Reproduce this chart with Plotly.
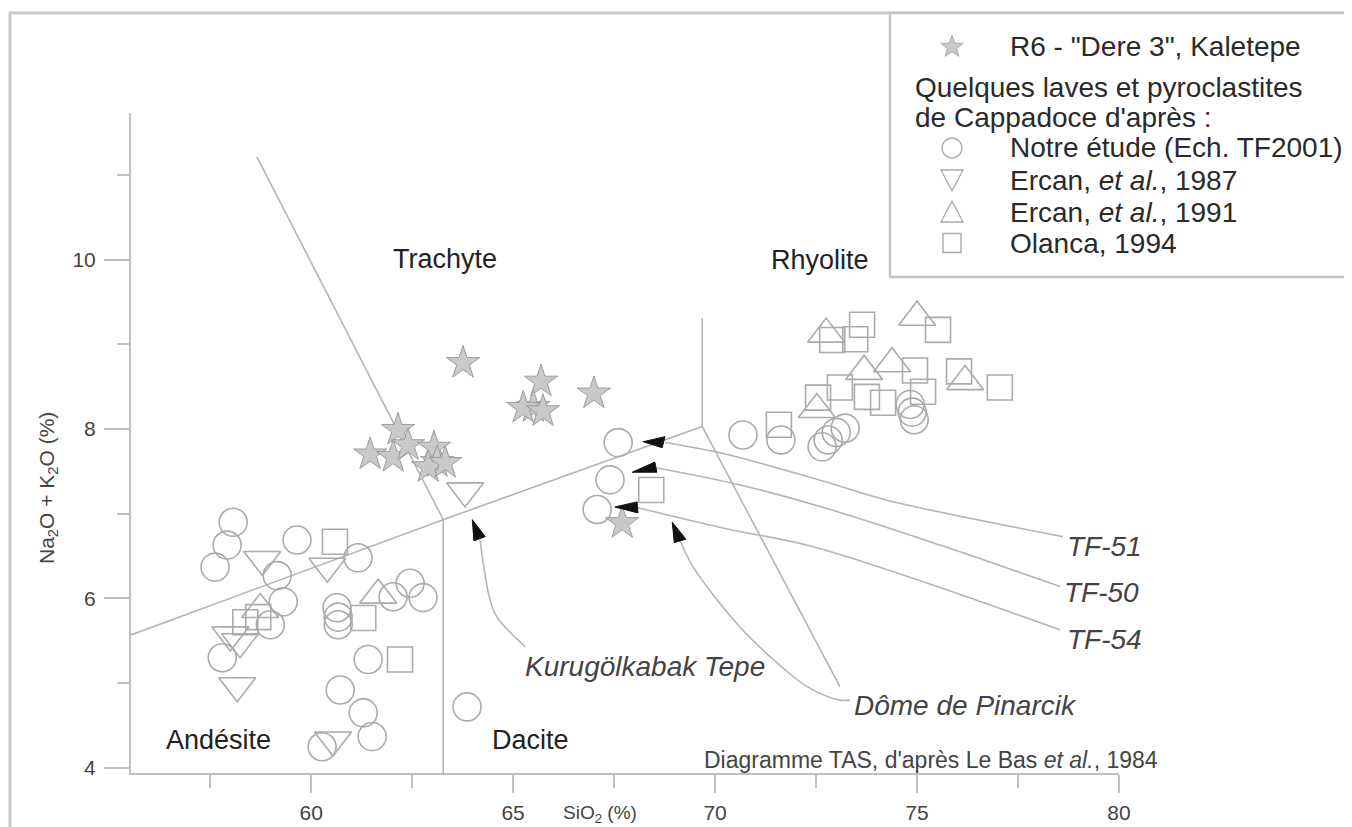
import math
import plotly.graph_objects as go

# ---------------- data (SiO2 %, Na2O+K2O %) ----------------
star_sio2 = [63.76, 65.69, 65.50, 65.25, 65.74, 67.00, 62.15, 61.46, 62.03, 62.40, 63.04, 63.12, 62.90, 63.32, 67.70]
star_alk = [8.78, 8.56, 8.26, 8.25, 8.21, 8.42, 7.99, 7.70, 7.67, 7.81, 7.78, 7.61, 7.55, 7.60, 6.89]

circ_sio2 = [58.07, 57.92, 57.62, 59.65, 59.16, 59.31, 58.99, 57.80, 61.16, 60.64, 60.67, 60.67, 62.45, 62.77,
             62.03, 61.41, 60.72, 61.29, 61.51, 60.27, 63.86, 67.60, 67.40, 67.08, 70.69, 71.63, 72.65, 72.80,
             73.00, 73.22, 74.83, 74.88, 74.93]
circ_alk = [6.90, 6.63, 6.37, 6.69, 6.27, 5.96, 5.69, 5.30, 6.48, 5.89, 5.78, 5.69, 6.18, 6.01,
            6.02, 5.28, 4.92, 4.65, 4.37, 4.25, 4.72, 7.84, 7.40, 7.05, 7.93, 7.87, 7.79, 7.87,
            7.96, 8.01, 8.29, 8.20, 8.11]

down_sio2 = [58.79, 60.40, 58.00, 58.24, 58.17, 60.54, 63.81]
down_alk = [6.46, 6.38, 5.57, 5.49, 4.97, 4.33, 7.27]

up_sio2 = [72.75, 75.00, 74.38, 73.69, 76.19, 72.52, 61.66, 58.74]
up_alk = [9.12, 9.32, 8.77, 8.68, 8.56, 8.23, 6.04, 5.87]

sq_sio2 = [60.59, 58.37, 58.69, 61.29, 62.20, 68.42, 73.64, 72.90, 73.47, 75.52, 74.95, 76.04, 77.05,
           73.09, 72.55, 73.76, 74.16, 75.15, 71.58]
sq_alk = [6.67, 5.72, 5.78, 5.77, 5.28, 7.28, 9.23, 9.05, 9.06, 9.17, 8.69, 8.68, 8.49,
          8.49, 8.37, 8.38, 8.31, 8.44, 8.05]

series_names = ['R6 - "Dere 3", Kaletepe', "Notre étude (Ech. TF2001)", "Ercan, <i>et al.</i>, 1987",
                "Ercan, <i>et al.</i>, 1991", "Olanca, 1994"]
legend_header = ["Quelques laves et pyroclastites", "de Cappadoce d'après :"]

# TAS field boundaries (as drawn)
tas_lower_x = [55.54, 63.27, 69.68]
tas_lower_y = [5.57, 6.93, 8.03]
tas_steep_x = [58.66, 63.27]
tas_steep_y = [11.21, 6.93]
tas_and_dac_x = [63.27, 63.27]
tas_and_dac_y = [6.93, 3.94]
tas_rhy_x = [69.68, 69.68]
tas_rhy_y = [8.03, 9.31]
tas_dac_rhy_x = [69.68, 73.09]
tas_dac_rhy_y = [8.03, 4.96]

field_names = ["Trachyte", "Rhyolite", "Andésite", "Dacite"]
field_x = [63.32, 72.60, 57.70, 65.42]
field_y = [10.01, 10.00, 4.33, 4.33]

# leader curves for named samples
leaders = {
    "TF-51": ([68.76, 70.30, 72.85, 74.26, 78.61], [7.84, 7.70, 7.36, 7.16, 6.73]),
    "TF-50": ([68.56, 70.62, 72.85, 75.57, 78.54], [7.54, 7.34, 7.05, 6.63, 6.14]),
    "TF-54": ([68.09, 70.30, 72.43, 78.54], [7.07, 6.82, 6.61, 5.63]),
    "Kurugölkabak Tepe": ([64.18, 64.43, 64.60, 65.30], [6.69, 5.98, 5.78, 5.43]),
    "Dôme de Pinarcik": ([69.13, 69.46, 70.62, 71.44, 72.28, 73.09, 73.34], [6.69, 6.37, 5.66, 5.28, 4.96, 4.80, 4.80]),
}
arrowheads = [
    [(68.22, 7.85), (68.76, 7.91), (68.69, 7.78)],
    [(67.95, 7.49), (68.51, 7.61), (68.56, 7.49)],
    [(67.52, 7.08), (68.07, 7.14), (68.09, 7.01)],
    [(63.99, 6.93), (64.03, 6.68), (64.31, 6.73)],
    [(68.94, 6.90), (68.99, 6.66), (69.28, 6.70)],
]
label_text = ["TF-51", "TF-50", "TF-54", "Kurugölkabak Tepe", "Dôme de Pinarcik"]
label_x = [78.66, 78.59, 78.66, 68.27, 76.21]
label_y = [6.61, 6.07, 5.51, 5.20, 4.74]
label_anchor = ["left", "left", "left", "center", "center"]

X_RANGE = [55.54, 80.0]
Y_RANGE = [3.94, 11.73]

FONT = "Liberation Sans, Arial, sans-serif"
GREY = "#ababab"
LINE_GREY = "#b4b4b4"

# ---------------- geometry (page offset of 8 px body margin) ----------------
OFF = 8
W, H = 1352 - OFF, 827 - OFF
ML, MT = 131 - OFF, 113 - OFF
PW, PH = 988, 660
MR, MB = W - ML - PW, H - MT - PH


def px2paper(sx, sy):
    """screen pixel -> paper fraction"""
    return ((sx - OFF) - ML) / PW, (H - MB - (sy - OFF)) / PH


fig = go.Figure()

for xs, ys in [(tas_lower_x, tas_lower_y), (tas_steep_x, tas_steep_y), (tas_and_dac_x, tas_and_dac_y),
               (tas_rhy_x, tas_rhy_y), (tas_dac_rhy_x, tas_dac_rhy_y)]:
    fig.add_trace(go.Scatter(x=xs, y=ys, mode="lines", line=dict(color=LINE_GREY, width=1.6),
                             showlegend=False, hoverinfo="skip"))

for name, (xs, ys) in leaders.items():
    fig.add_trace(go.Scatter(x=xs, y=ys, mode="lines", line=dict(color=LINE_GREY, width=1.6, shape="spline"),
                             showlegend=False, hoverinfo="skip"))

open_marker = dict(color="rgba(0,0,0,0)", line=dict(color=GREY, width=1.6))

fig.add_trace(go.Scatter(x=star_sio2, y=star_alk, mode="markers", name=series_names[0],
                         marker=dict(symbol="star", size=25, color="#c9c9c9", line=dict(color="#9d9d9d", width=1))))
fig.add_trace(go.Scatter(x=circ_sio2, y=circ_alk, mode="markers", name=series_names[1],
                         marker=dict(symbol="circle", size=28, **open_marker)))
fig.add_trace(go.Scatter(x=down_sio2, y=down_alk, mode="markers", name=series_names[2],
                         marker=dict(symbol="triangle-down", size=32, **open_marker)))
fig.add_trace(go.Scatter(x=up_sio2, y=up_alk, mode="markers", name=series_names[3],
                         marker=dict(symbol="triangle-up", size=32, **open_marker)))
fig.add_trace(go.Scatter(x=sq_sio2, y=sq_alk, mode="markers", name=series_names[4],
                         marker=dict(symbol="square", size=25, **open_marker)))

shapes = []
for tri in arrowheads:
    (x1, y1), (x2, y2), (x3, y3) = tri
    shapes.append(dict(type="path", xref="x", yref="y",
                       path=f"M{x1},{y1} L{x2},{y2} L{x3},{y3} Z",
                       fillcolor="#111", line=dict(color="#111", width=1)))

# outer frame of the figure (left and top edges visible)
fx0, fy0 = px2paper(10, 840)
fx1, fy1 = px2paper(1380, 13)
shapes.append(dict(type="rect", xref="paper", yref="paper", x0=fx0, y0=fy0, x1=fx1, y1=fy1,
                   line=dict(color="#c8c8c8", width=3), layer="below"))

# ---------------- hand-built legend ----------------
bx0, by0 = px2paper(890, 277)
bx1, by1 = px2paper(1380, 13)
shapes.append(dict(type="rect", xref="paper", yref="paper", x0=bx0, y0=by0, x1=bx1, y1=by1,
                   line=dict(color="#c4c4c4", width=2.5), fillcolor="white", layer="above"))

SYM_X = 952
TXT_X = 1008
row_y = [47, 148, 180, 212, 243]


def star_path(R, r):
    pts = []
    for k in range(10):
        a = math.radians(90 - 36 * k)
        rad = R if k % 2 == 0 else r
        pts.append(f"{rad * math.cos(a):.2f},{rad * math.sin(a):.2f}")
    return "M" + " L".join(pts) + " Z"


sym_paths = [
    star_path(11.5, 4.8),
    None,
    "M-11,10 L11,10 L0,-11 Z",
    "M-11,-10 L11,-10 L0,11 Z",
    "M-9,-9.5 L9,-9.5 L9,9.5 L-9,9.5 Z",
]
for i, (p, ry) in enumerate(zip(sym_paths, row_y)):
    axp, ayp = px2paper(SYM_X, ry)
    common = dict(xref="paper", yref="paper", xsizemode="pixel", ysizemode="pixel",
                  xanchor=axp, yanchor=ayp, layer="above")
    if i == 0:
        shapes.append(dict(type="path", path=p, fillcolor="#c9c9c9",
                           line=dict(color="#a5a5a5", width=1), **common))
    elif p is None:
        shapes.append(dict(type="circle", x0=-10, x1=10, y0=-10, y1=10,
                           line=dict(color=GREY, width=1.4), **common))
    else:
        shapes.append(dict(type="path", path=p, line=dict(color=GREY, width=1.4), **common))

annotations = []
for t, ry in zip(series_names, row_y):
    ax, ay = px2paper(TXT_X, ry)
    annotations.append(dict(x=ax, y=ay, xref="paper", yref="paper", xanchor="left", yanchor="middle",
                            text=t, showarrow=False, font=dict(family=FONT, size=28, color="#2a2a2a")))
for t, ry in zip(legend_header, [87, 117]):
    ax, ay = px2paper(913, ry)
    annotations.append(dict(x=ax, y=ay, xref="paper", yref="paper", xanchor="left", yanchor="middle",
                            text=t, showarrow=False, font=dict(family=FONT, size=28, color="#2a2a2a")))

for t, x, y in zip(field_names, field_x, field_y):
    annotations.append(dict(x=x, y=y, xref="x", yref="y", text=t, showarrow=False,
                            xanchor="center", yanchor="middle",
                            font=dict(family=FONT, size=27, color="#222")))
for t, x, y, a in zip(label_text, label_x, label_y, label_anchor):
    annotations.append(dict(x=x, y=y, xref="x", yref="y", text=f"<i>{t}</i>", showarrow=False,
                            xanchor=a, yanchor="middle", font=dict(family=FONT, size=28, color="#444")))

ax, ay = px2paper(1160, 760)
annotations.append(dict(x=ax, y=ay, xref="paper", yref="paper", xanchor="right", yanchor="middle",
                        text="Diagramme TAS, d'après Le Bas <i>et al.</i>, 1984", showarrow=False,
                        font=dict(family=FONT, size=23, color="#444")))
ax, ay = px2paper(600, 814)
annotations.append(dict(x=ax, y=ay, xref="paper", yref="paper", xanchor="center", yanchor="middle",
                        text="SiO<sub>2</sub> (%)", showarrow=False,
                        font=dict(family=FONT, size=19, color="#444")))
ax, ay = px2paper(48, 488)
annotations.append(dict(x=ax, y=ay, xref="paper", yref="paper", textangle=-90,
                        xanchor="center", yanchor="middle",
                        text="Na<sub>2</sub>O + K<sub>2</sub>O (%)", showarrow=False,
                        font=dict(family=FONT, size=21, color="#444")))

axis_common = dict(showline=True, linecolor="#c0c0c0", linewidth=2, ticks="outside",
                   tickcolor="#c0c0c0", tickwidth=2, showgrid=False, zeroline=False,
                   tickfont=dict(family=FONT, size=21, color="#444"))

fig.update_layout(
    width=W, height=H, autosize=False,
    margin=dict(l=ML, r=MR, t=MT, b=MB, autoexpand=False),
    paper_bgcolor="white", plot_bgcolor="white",
    xaxis=dict(range=X_RANGE, tick0=60, dtick=5, ticklen=18, ticklabelstandoff=2, **axis_common,
               minor=dict(dtick=2.5, ticklen=13, tickcolor="#c0c0c0", tickwidth=2, ticks="outside")),
    yaxis=dict(range=Y_RANGE, tick0=4, dtick=2, ticklen=25, ticklabelstandoff=4, **axis_common,
               minor=dict(dtick=1, ticklen=12, tickcolor="#c0c0c0", tickwidth=2, ticks="outside")),
    shapes=shapes,
    annotations=annotations,
    showlegend=False,
)

fig.write_html("out.html")
